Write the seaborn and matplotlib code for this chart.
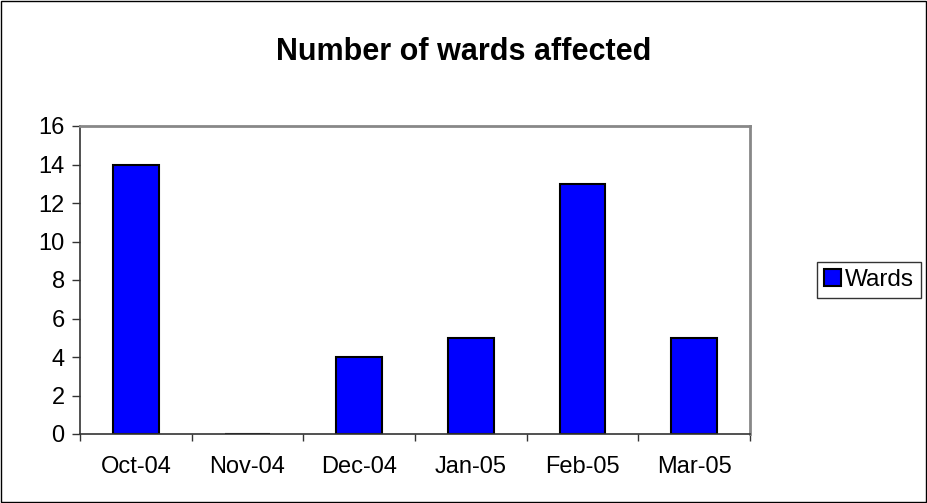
import numpy as np
import pandas as pd
import matplotlib
matplotlib.use("Agg")
import matplotlib.pyplot as plt
import seaborn as sns
from matplotlib.patches import Rectangle

# date
months = ["Oct-04", "Nov-04", "Dec-04", "Jan-05", "Feb-05", "Mar-05"]
wards = [14, 0, 4, 5, 13, 5]
y_ticks = [0, 2, 4, 6, 8, 10, 12, 14, 16]

df = pd.DataFrame({"Month": months, "Wards": wards})

sns.set_style("white")
plt.rcParams["font.family"] = ["Liberation Sans", "DejaVu Sans"]
plt.rcParams["text.color"] = "black"
plt.rcParams["xtick.color"] = "black"
plt.rcParams["ytick.color"] = "black"

fig = plt.figure(figsize=(9.28, 5.03), dpi=100)
ax = fig.add_axes([80 / 928, 1 - 434 / 503, 670 / 928, 308 / 503])

sns.barplot(data=df, x="Month", y="Wards", color="#0000FF", edgecolor="black",
            linewidth=1.5, width=0.41, saturation=1, label="Wards", ax=ax)

ax.set_xlim(-0.5, len(months) - 0.5)
ax.set_ylim(0, 16)
ax.set_yticks(y_ticks)
ax.set_xlabel("")
ax.set_ylabel("")

# tick-uri intre categorii
ax.set_xticks(np.arange(-0.5, len(months), 1), minor=True)
ax.tick_params(axis="x", which="major", length=0, pad=16, labelsize=17, labelcolor="black")
ax.tick_params(axis="x", which="minor", length=5, width=1, color="#333333", direction="out", bottom=True)
ax.tick_params(axis="y", length=6, width=1, color="#333333", direction="out", left=True,
               labelsize=17, pad=5, labelcolor="black")

for side in ["top", "right"]:
    ax.spines[side].set_color("#888888")
    ax.spines[side].set_linewidth(2)
for side in ["left", "bottom"]:
    ax.spines[side].set_color("#333333")
    ax.spines[side].set_linewidth(1.2)

fig.text(0.5, 1 - 52 / 503, "Number of wards affected", ha="center", va="center",
         fontsize=22, fontweight="bold", color="black")

leg = ax.legend(loc="center left", bbox_to_anchor=(817 / 928, 1 - 280 / 503),
                bbox_transform=fig.transFigure, frameon=True, fancybox=False,
                fontsize=17.5, handlelength=0.68, handleheight=0.68, handletextpad=0.15,
                borderpad=0.3, borderaxespad=0)
leg.get_frame().set_edgecolor("black")
leg.get_frame().set_linewidth(1)

# chenar exterior
fig.patches.append(Rectangle((0.001, 0.001), 0.997, 0.997, transform=fig.transFigure,
                             fill=False, edgecolor="black", linewidth=1))

fig.savefig("out.png", dpi=100)
